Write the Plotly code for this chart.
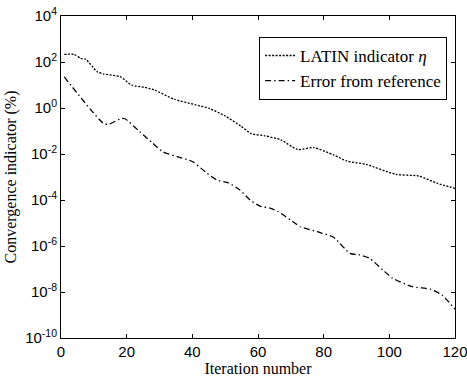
import plotly.graph_objects as go

latin_iter = [1, 4, 6, 7.5, 11, 13, 18, 21.5, 25.5, 28.5, 34.5, 41, 45, 50, 55, 58, 62, 67,
              72, 77, 83, 87, 93, 102, 109, 114.5, 120]
latin_vals = [214, 214, 145, 132, 38, 30, 22.9, 10, 7.9, 6.0, 2.4, 1.38, 0.98, 0.45, 0.155,
              0.076, 0.062, 0.041, 0.0158, 0.019, 0.0091, 0.005, 0.0035, 0.0013, 0.0011,
              5.4e-4, 3.2e-4]

err_iter = [1, 13, 14.5, 18.5, 19.5, 24, 28, 31, 36, 40, 44.5, 47.5, 51, 54.5, 57.6, 60.6,
            63.7, 66, 71.3, 72.8, 78, 83, 88, 91, 94, 98, 101, 107, 112.5, 116, 120]
err_vals = [22.4, 0.21, 0.195, 0.355, 0.34, 0.093, 0.029, 0.0126, 0.0072, 0.0047, 0.00145,
            7.4e-4, 5.6e-4, 2.7e-4, 1.0e-4, 5.4e-5, 4.4e-5, 3.2e-5, 9.8e-6, 6.9e-6, 4.2e-6,
            2.4e-6, 4.8e-7, 4.1e-7, 2.9e-7, 9.1e-8, 4.0e-8, 1.7e-8, 1.32e-8, 7.4e-9, 1.8e-9]

x_ticks = [0, 20, 40, 60, 80, 100, 120]
y_tick_vals = [1e-10, 1e-8, 1e-6, 1e-4, 1e-2, 1e0, 1e2, 1e4]
y_tick_text = ["10<sup>-10</sup>", "10<sup>-8</sup>", "10<sup>-6</sup>", "10<sup>-4</sup>",
               "10<sup>-2</sup>", "10<sup>0</sup>", "10<sup>2</sup>", "10<sup>4</sup>"]

serif = "Liberation Serif"
sans = "Liberation Sans"

fig = go.Figure()
fig.add_trace(go.Scatter(x=latin_iter, y=latin_vals, mode="lines",
                         name="LATIN indicator <i>η</i>",
                         line=dict(color="black", width=1.3, dash="2px,1.5px",
                                   shape="spline", smoothing=0.6)))
fig.add_trace(go.Scatter(x=err_iter, y=err_vals, mode="lines",
                         name="Error from reference",
                         line=dict(color="black", width=1.3, dash="6px,3px,1.5px,3px",
                                   shape="spline", smoothing=0.6)))

axis_common = dict(showline=True, linecolor="black", linewidth=1, mirror="ticks",
                   ticks="inside", ticklen=4, tickcolor="black", showgrid=False,
                   zeroline=False, automargin=False, ticklabeloverflow="allow")

fig.update_layout(
    width=467, height=379,
    margin=dict(l=61, r=12, t=16, b=41),
    plot_bgcolor="white", paper_bgcolor="white",
    showlegend=True,
    legend=dict(x=0.98, xanchor="right", y=0.935, yanchor="top",
                bordercolor="black", borderwidth=1, bgcolor="white",
                itemwidth=30, tracegroupgap=0,
                font=dict(family=serif, size=17, color="black")),
    xaxis=dict(range=[0, 120], tickvals=x_ticks,
               tickfont=dict(family=sans, size=15, color="black"),
               title=dict(text="Iteration number", standoff=0,
                          font=dict(family=serif, size=16, color="black")),
               **axis_common),
    yaxis=dict(type="log", range=[-10, 4], tickvals=y_tick_vals, ticktext=y_tick_text,
               tickfont=dict(family=sans, size=15, color="black"),
               title=dict(text="Convergence indicator (%)", standoff=4,
                          font=dict(family=serif, size=16, color="black")),
               **axis_common),
)

fig.write_html("out.html")
